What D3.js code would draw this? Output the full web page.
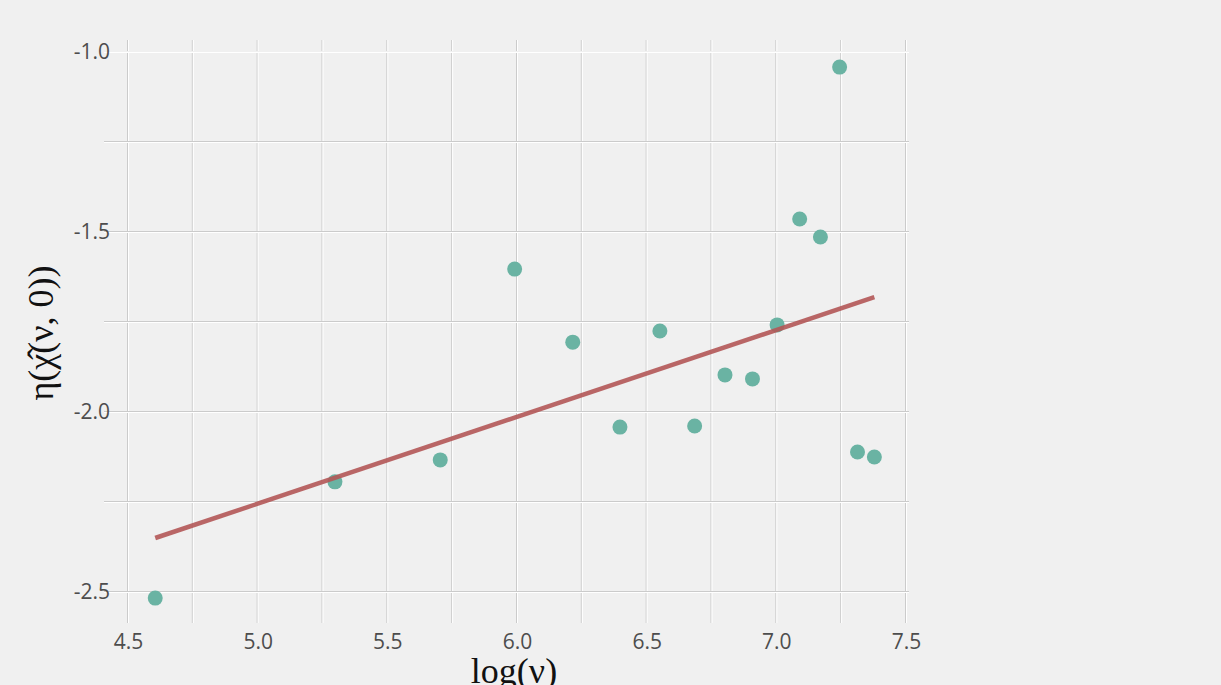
<!DOCTYPE html>
<html>
<head>
<meta charset="utf-8">
<script src="https://cdn.jsdelivr.net/npm/d3@7"></script>
<style>
  body { margin: 0; background: #f0f0f0; }
  svg { display: block; }
  .tick text { font-family: "Open Sans", sans-serif; font-size: 21px; fill: #4d4d4d; }
</style>
</head>
<body>
<div id="chart"></div>
<script>
// log(nu) and the measured eta values
const logNu = [4.605, 5.298, 5.704, 5.991, 6.215, 6.397, 6.551, 6.685,
               6.802, 6.908, 7.003, 7.090, 7.170, 7.244, 7.313, 7.378];
const eta = [-2.517, -2.194, -2.133, -1.603, -1.806, -2.042, -1.775, -2.039,
             -1.897, -1.908, -1.758, -1.464, -1.514, -1.042, -2.111, -2.125];

// end points of the fitted line
const fitX = [4.605, 7.378];
const fitY = [-2.350, -1.681];

const xTicks = [4.5, 5.0, 5.5, 6.0, 6.5, 7.0, 7.5];
const yTicks = [-2.5, -2.0, -1.5, -1.0];
const xGrid = [4.5, 4.75, 5.0, 5.25, 5.5, 5.75, 6.0, 6.25, 6.5, 6.75, 7.0, 7.25, 7.5];
const yGrid = [-2.5, -2.25, -2.0, -1.75, -1.5, -1.25, -1.0];

const W = 1221, H = 685;

const svg = d3.select("#chart").append("svg")
    .attr("width", W)
    .attr("height", H);

svg.append("rect").attr("width", W).attr("height", H).attr("fill", "#f0f0f0");

const x = d3.scaleLinear().domain([4.5, 7.5]).range([128, 906]);
const y = d3.scaleLinear().domain([-2.5, -1.0]).range([592, 52]);

// grid: grey line with a white line next to it
const grid = svg.append("g");
grid.selectAll(".vg").data(xGrid).enter().append("line")
    .attr("x1", d => x(d) - 0.5).attr("x2", d => x(d) - 0.5)
    .attr("y1", 40).attr("y2", 623)
    .attr("stroke", "#cbcbcb").attr("stroke-width", 1);
grid.selectAll(".vw").data(xGrid).enter().append("line")
    .attr("x1", d => x(d) + 0.5).attr("x2", d => x(d) + 0.5)
    .attr("y1", 40).attr("y2", 623)
    .attr("stroke", "#ffffff").attr("stroke-width", 1);
grid.selectAll(".hg").data(yGrid).enter().append("line")
    .attr("y1", d => y(d) - 0.5).attr("y2", d => y(d) - 0.5)
    .attr("x1", 104).attr("x2", 909)
    .attr("stroke", d => d === -1.0 ? "#f0f0f0" : "#cbcbcb").attr("stroke-width", 1);
grid.selectAll(".hw").data(yGrid).enter().append("line")
    .attr("y1", d => y(d) + 0.5).attr("y2", d => y(d) + 0.5)
    .attr("x1", 104).attr("x2", 909)
    .attr("stroke", "#ffffff").attr("stroke-width", 1);

// axes, labels only
const xAxis = svg.append("g")
    .attr("transform", "translate(0,624)")
    .call(d3.axisBottom(x).tickValues(xTicks).tickFormat(d3.format(".1f")).tickSize(0).tickPadding(10));
xAxis.select(".domain").remove();

const yAxis = svg.append("g")
    .attr("transform", "translate(111,0)")
    .call(d3.axisLeft(y).tickValues(yTicks).tickFormat(d3.format(".1f")).tickSize(0).tickPadding(1));
yAxis.select(".domain").remove();
yAxis.selectAll("text").text(d => d.toFixed(1));

// points
svg.append("g").selectAll("circle")
  .data(logNu.map((v, i) => [v, eta[i]]))
  .enter().append("circle")
    .attr("cx", d => x(d[0]))
    .attr("cy", d => y(d[1]))
    .attr("r", 7.5)
    .attr("fill", "#6ab3a3");

// fitted line
svg.append("line")
    .attr("x1", x(fitX[0])).attr("y1", y(fitY[0]))
    .attr("x2", x(fitX[1])).attr("y2", y(fitY[1]))
    .attr("stroke", "#b25656")
    .attr("stroke-opacity", 0.9)
    .attr("stroke-width", 4.5);

// axis titles
svg.append("text")
    .attr("x", 514).attr("y", 683)
    .attr("text-anchor", "middle")
    .style("font-family", "'Liberation Serif', 'DejaVu Serif', serif")
    .style("font-size", "36px")
    .attr("fill", "#111")
    .text("log(ν)");

svg.append("text")
    .attr("transform", "translate(53,333) rotate(-90)")
    .attr("text-anchor", "middle")
    .style("font-family", "'Liberation Serif', 'DejaVu Serif', serif")
    .style("font-size", "36px")
    .attr("fill", "#111")
    .text("η(χ̂(ν, 0))");
</script>
</body>
</html>
